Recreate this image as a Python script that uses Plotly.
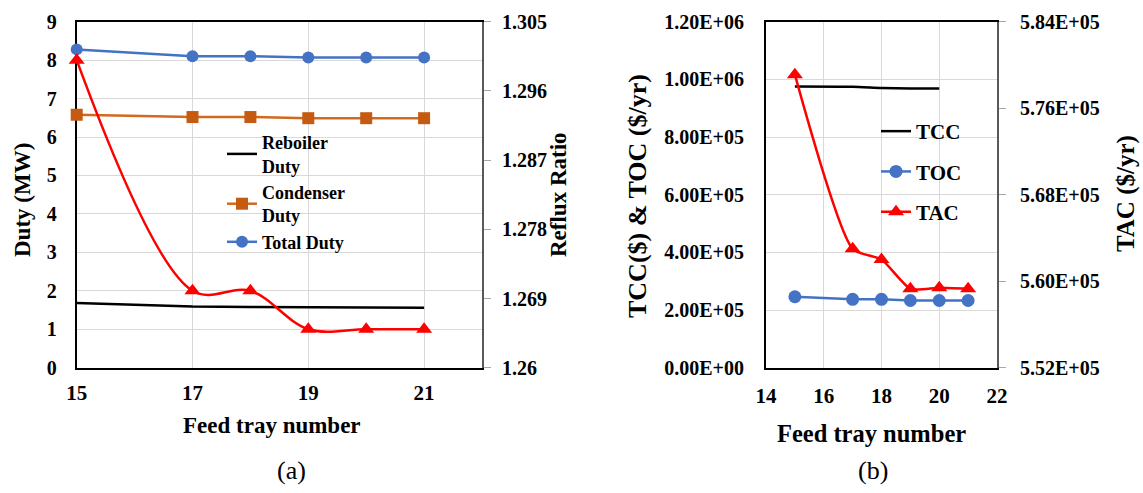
import plotly.graph_objects as go

# ---------------- data: panel (a) ----------------
trays_a = [15, 17, 18, 19, 20, 21]
reboiler_duty = [1.68, 1.59, 1.58, 1.57, 1.57, 1.56]
condenser_duty = [6.58, 6.52, 6.52, 6.49, 6.49, 6.49]
total_duty = [8.28, 8.10, 8.10, 8.07, 8.07, 8.07]
reflux_ratio = [1.300, 1.270, 1.270, 1.265, 1.265, 1.265]

duty_ticks = [0, 1, 2, 3, 4, 5, 6, 7, 8, 9]
reflux_tickvals = [1.26, 1.269, 1.278, 1.287, 1.296, 1.305]
reflux_ticktext = ["1.26", "1.269", "1.278", "1.287", "1.296", "1.305"]
tray_ticks_a = [15, 17, 19, 21]

# ---------------- data: panel (b) ----------------
trays_tcc = [15, 17, 18, 19, 20]
tcc = [9.75e5, 9.74e5, 9.70e5, 9.68e5, 9.68e5]
trays_b = [15, 17, 18, 19, 20, 21]
toc = [2.46e5, 2.37e5, 2.37e5, 2.33e5, 2.33e5, 2.33e5]
tac = [5.791e5, 5.630e5, 5.620e5, 5.593e5, 5.594e5, 5.593e5]

cost_tickvals = [0, 2e5, 4e5, 6e5, 8e5, 1e6, 1.2e6]
cost_ticktext = ["0.00E+00", "2.00E+05", "4.00E+05", "6.00E+05", "8.00E+05", "1.00E+06", "1.20E+06"]
tac_tickvals = [5.52e5, 5.60e5, 5.68e5, 5.76e5, 5.84e5]
tac_ticktext = ["5.52E+05", "5.60E+05", "5.68E+05", "5.76E+05", "5.84E+05"]
tray_ticks_b = [14, 16, 18, 20, 22]

FONT = "Liberation Serif"
W, H = 1143, 493
BLUE = "#4472C4"
ORANGE = "#C55A11"
ORANGE_LINE = "#D2691E"
RED = "#FF0000"
GRID = "#d9d9d9"

def px(x):
    return x / W

def py(y):
    return (H - y) / H

ydom = [py(367.7), py(21.7)]

fig = go.Figure()

# panel (a)
fig.add_trace(go.Scatter(x=trays_a, y=reboiler_duty, mode="lines", name="Reboiler<br>Duty",
                         line=dict(color="black", width=2.5), xaxis="x", yaxis="y",
                         legend="legend", cliponaxis=False))
fig.add_trace(go.Scatter(x=trays_a, y=condenser_duty, mode="lines+markers", name="Condenser<br>Duty",
                         line=dict(color=ORANGE_LINE, width=2.5),
                         marker=dict(symbol="square", size=12, color=ORANGE),
                         xaxis="x", yaxis="y", legend="legend", cliponaxis=False))
fig.add_trace(go.Scatter(x=trays_a, y=total_duty, mode="lines+markers", name="Total Duty",
                         line=dict(color=BLUE, width=2.5),
                         marker=dict(symbol="circle", size=12, color=BLUE),
                         xaxis="x", yaxis="y", legend="legend", cliponaxis=False))
fig.add_trace(go.Scatter(x=trays_a, y=reflux_ratio, mode="lines+markers", name="Reflux Ratio",
                         line=dict(color=RED, width=2.5, shape="spline", smoothing=1),
                         marker=dict(symbol="triangle-up", size=14, color=RED),
                         xaxis="x", yaxis="y2", showlegend=False, cliponaxis=False))

# panel (b)
fig.add_trace(go.Scatter(x=trays_tcc, y=tcc, mode="lines", name="TCC",
                         line=dict(color="black", width=2.5, shape="spline", smoothing=0.6),
                         xaxis="x2", yaxis="y3", legend="legend2", legendgroup="g1", cliponaxis=False))
fig.add_trace(go.Scatter(x=trays_b, y=toc, mode="lines+markers", name="TOC",
                         line=dict(color=BLUE, width=2.5),
                         marker=dict(symbol="circle", size=13, color=BLUE),
                         xaxis="x2", yaxis="y3", legend="legend2", legendgroup="g2", cliponaxis=False))
fig.add_trace(go.Scatter(x=trays_b, y=tac, mode="lines+markers", name="TAC",
                         line=dict(color=RED, width=2.5, shape="spline", smoothing=0.6),
                         marker=dict(symbol="triangle-up", size=14, color=RED),
                         xaxis="x2", yaxis="y4", legend="legend2", legendgroup="g3", cliponaxis=False))

tickfont = dict(family=FONT, size=20, color="black", weight="bold")
xtickfont = dict(family=FONT, size=21, color="black", weight="bold")

common_x = dict(showline=True, linecolor="black", linewidth=2, mirror=True,
                showgrid=True, gridcolor=GRID, gridwidth=1, zeroline=False,
                ticks="", tickfont=xtickfont, layer="below traces", automargin=False)
common_yl = dict(showline=True, linecolor="black", linewidth=2,
                 showgrid=True, gridcolor=GRID, gridwidth=1, zeroline=False,
                 ticks="", tickfont=tickfont, layer="below traces", automargin=False)
common_yr = dict(showline=True, linecolor="#595959", linewidth=2, side="right",
                 showgrid=False, zeroline=False, ticks="outside", ticklen=7,
                 tickcolor="#a6a6a6", tickwidth=1, tickfont=tickfont, layer="below traces",
                 automargin=False)

fig.update_layout(
    width=W, height=H,
    margin=dict(l=0, r=0, t=0, b=0, autoexpand=False),
    paper_bgcolor="white", plot_bgcolor="white",
    font=dict(family=FONT, color="black"),
    xaxis=dict(domain=[px(76.7), px(482)], range=[15, 22], tickvals=tray_ticks_a,
               anchor="y", ticklabelstandoff=5, **common_x),
    yaxis=dict(domain=ydom, range=[0, 9], tickvals=duty_ticks, anchor="x",
               ticklabelstandoff=14, **common_yl),
    yaxis2=dict(overlaying="y", anchor="x", range=[1.26, 1.305], tickvals=reflux_tickvals,
                ticktext=reflux_ticktext, ticklabelstandoff=7, **common_yr),
    xaxis2=dict(domain=[px(766), px(997)], range=[14, 22], tickvals=tray_ticks_b,
                anchor="y3", ticklabelstandoff=8, **common_x),
    yaxis3=dict(domain=ydom, range=[0, 1.2e6], tickvals=cost_tickvals, ticktext=cost_ticktext,
                anchor="x2", ticklabelstandoff=16, **common_yl),
    yaxis4=dict(overlaying="y3", anchor="x2", range=[5.52e5, 5.84e5], tickvals=tac_tickvals,
                ticktext=tac_ticktext, ticklabelstandoff=10, **common_yr),
    legend=dict(x=px(222), y=py(124), xanchor="left", yanchor="top",
                bgcolor="rgba(0,0,0,0)", borderwidth=0,
                font=dict(family=FONT, size=18, color="black", weight="bold"),
                tracegroupgap=4),
    legend2=dict(x=px(876), y=py(111), xanchor="left", yanchor="top",
                 bgcolor="rgba(0,0,0,0)", borderwidth=0, traceorder="grouped",
                 font=dict(family=FONT, size=21, color="black", weight="bold"),
                 tracegroupgap=10),
)

def ann(text, x, y, size, angle=0, bold=True):
    fig.add_annotation(text=text, x=px(x), y=py(y), xref="paper", yref="paper",
                       showarrow=False, textangle=angle, xanchor="center", yanchor="middle",
                       font=dict(family=FONT, size=size, color="black",
                                 weight="bold" if bold else "normal"))

ann("Duty (MW)", 22, 200, 23, angle=-90)
ann("Reflux Ratio", 558, 195, 23, angle=-90)
ann("Feed tray number", 272, 425, 23)
ann("(a)", 291, 470, 26, bold=False)

ann("TCC($) &amp; TOC ($/yr)", 637, 196, 26, angle=-90)
ann("TAC ($/yr)", 1126, 194, 25, angle=-90)
ann("Feed tray number", 871, 433, 24.5)
ann("(b)", 873, 470, 26, bold=False)

fig.write_html("out.html")
